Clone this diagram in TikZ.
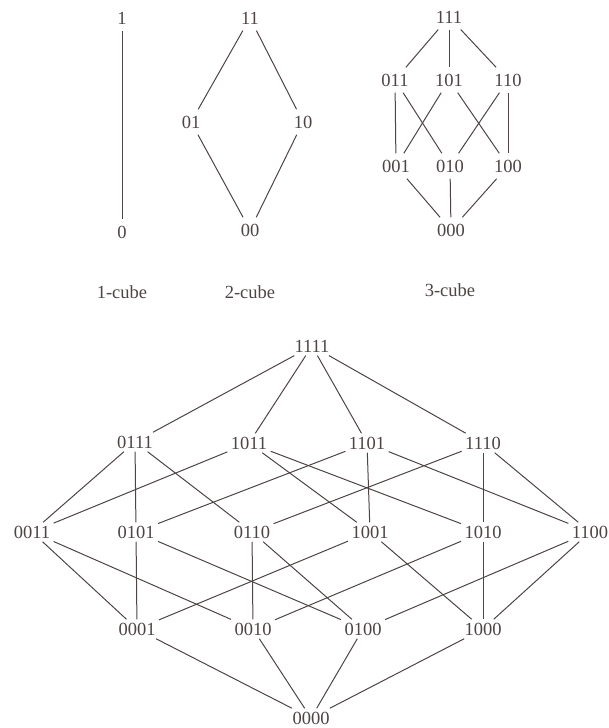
\documentclass[tikz,border=0pt]{standalone}
\usepackage{fontspec}
\setmainfont{Liberation Serif}
\usepackage{tikz}
\definecolor{ink}{RGB}{78,68,68}

\begin{document}
\begin{tikzpicture}[x=1pt,y=1pt,color=ink,line width=1pt,
		every node/.style={inner sep=3pt,font=\fontsize{18.5}{20}\selectfont},
		small/.style={inner sep=6pt}]
				\useasboundingbox (0,0) rectangle (609,-728);
				% 1-cube
				\node[small] (a1) at (122,-18) {1};
				\node[small] (a0) at (122,-232) {0};
				\draw (a1)--(a0);
				\node at (122,-292) {1-cube};
				% 2-cube
				\node[small] (b11) at (250,-18) {11};
				\node[small] (b01) at (191,-122) {01};
				\node[small] (b10) at (303,-122) {10};
				\node[small] (b00) at (250,-230) {00};
				\draw (b11)--(b01);
				\draw (b11)--(b10);
				\draw (b01)--(b00);
				\draw (b10)--(b00);
				\node at (250,-292) {2-cube};
				% 3-cube
				\node[small] (c111) at (449,-17) {111};
				\node[small] (c011) at (395,-80) {011};
				\node[small] (c101) at (449,-80) {101};
				\node[small] (c110) at (508,-80) {110};
				\node[small] (c001) at (396,-166) {001};
				\node[small] (c010) at (450,-166) {010};
				\node[small] (c100) at (508,-166) {100};
				\node[small] (c000) at (451,-230) {000};
				\draw (c111)--(c011);
				\draw (c111)--(c101);
				\draw (c111)--(c110);
				\draw (c011)--(c001);
				\draw (c011)--(c010);
				\draw (c101)--(c001);
				\draw (c101)--(c100);
				\draw (c110)--(c010);
				\draw (c110)--(c100);
				\draw (c001)--(c000);
				\draw (c010)--(c000);
				\draw (c100)--(c000);
				\node at (450,-290) {3-cube};
				% 4-cube
				\node (d1111) at (312,-346) {1111};
				\node (d0111) at (135,-442) {0111};
				\node (d1011) at (249,-443) {1011};
				\node (d1101) at (367,-443) {1101};
				\node (d1110) at (483,-443) {1110};
				\node (d0011) at (32,-532) {0011};
				\node (d0101) at (136,-532) {0101};
				\node (d0110) at (252,-532) {0110};
				\node (d1001) at (370,-532) {1001};
				\node (d1010) at (483,-532) {1010};
				\node (d1100) at (590,-532) {1100};
				\node (d0001) at (137,-629) {0001};
				\node (d0010) at (253,-629) {0010};
				\node (d0100) at (363,-629) {0100};
				\node (d1000) at (483,-629) {1000};
				\node (d0000) at (311,-718) {0000};
				\draw (d1111)--(d0111);
				\draw (d1111)--(d1011);
				\draw (d1111)--(d1101);
				\draw (d1111)--(d1110);
				\draw (d0111)--(d0011);
				\draw (d0111)--(d0101);
				\draw (d0111)--(d0110);
				\draw (d1011)--(d0011);
				\draw (d1011)--(d1001);
				\draw (d1011)--(d1010);
				\draw (d1101)--(d0101);
				\draw (d1101)--(d1001);
				\draw (d1101)--(d1100);
				\draw (d1110)--(d0110);
				\draw (d1110)--(d1010);
				\draw (d1110)--(d1100);
				\draw (d0011)--(d0001);
				\draw (d0011)--(d0010);
				\draw (d0101)--(d0001);
				\draw (d0101)--(d0100);
				\draw (d0110)--(d0010);
				\draw (d0110)--(d0100);
				\draw (d1001)--(d0001);
				\draw (d1001)--(d1000);
				\draw (d1010)--(d0010);
				\draw (d1010)--(d1000);
				\draw (d1100)--(d0100);
				\draw (d1100)--(d1000);
				\draw (d0001)--(d0000);
				\draw (d0010)--(d0000);
				\draw (d0100)--(d0000);
				\draw (d1000)--(d0000);
			\end{tikzpicture}
\end{document}
